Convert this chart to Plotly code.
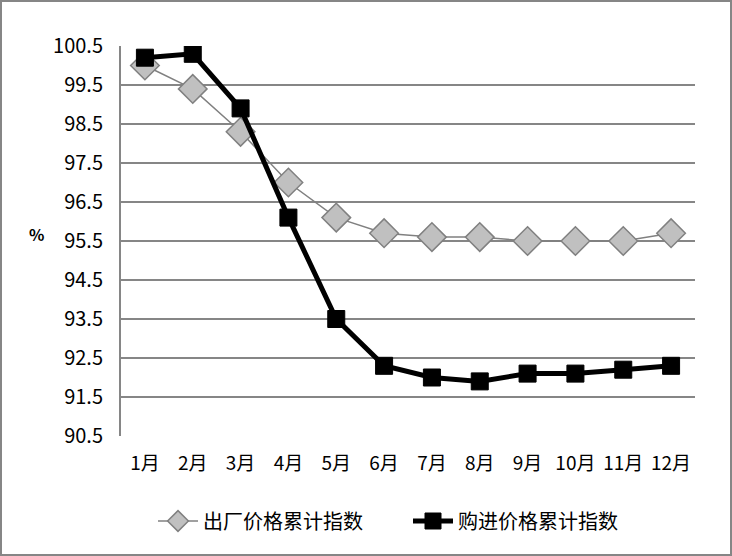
import plotly.graph_objects as go

months = ["1月", "2月", "3月", "4月", "5月", "6月", "7月", "8月", "9月", "10月", "11月", "12月"]
factory = [100.0, 99.4, 98.3, 97.0, 96.1, 95.7, 95.6, 95.6, 95.5, 95.5, 95.5, 95.7]
purchase = [100.2, 100.3, 98.9, 96.1, 93.5, 92.3, 92.0, 91.9, 92.1, 92.1, 92.2, 92.3]
yticks = [90.5, 91.5, 92.5, 93.5, 94.5, 95.5, 96.5, 97.5, 98.5, 99.5, 100.5]
name_factory = "出厂价格累计指数"
name_purchase = "购进价格累计指数"

FONT = "Liberation Sans Narrow, Noto Sans CJK SC, sans-serif"

fig = go.Figure()
fig.add_trace(go.Scatter(
    x=months, y=factory, name=name_factory, mode="lines+markers",
    line=dict(color="#808080", width=1.5),
    marker=dict(symbol="diamond", size=22, color="#C0C0C0",
                line=dict(color="#808080", width=1.5)),
))
fig.add_trace(go.Scatter(
    x=months, y=purchase, name=name_purchase, mode="lines+markers",
    line=dict(color="#000000", width=5),
    marker=dict(symbol="square", size=17, color="#000000",
                line=dict(color="#000000", width=1)),
))

L, R, T, B = 121, 37, 46, 120
W, H = 732, 556
pw, ph = W - L - R, H - T - B

fig.update_layout(
    width=W, height=H,
    margin=dict(l=L, r=R, t=T, b=B, autoexpand=False),
    paper_bgcolor="white", plot_bgcolor="white",
    font=dict(family=FONT, size=16, color="#000000"),
    showlegend=True,
    legend=dict(orientation="h", x=0.5, xanchor="center",
                y=(ph + T - 521) / ph, yanchor="middle",
                font=dict(size=20, family=FONT), itemwidth=40,
                entrywidth=200, entrywidthmode="pixels",
                tracegroupgap=0),
    xaxis=dict(type="category", showgrid=False, showline=False, ticks="",
               tickfont=dict(size=19), range=[-0.5, 11.5], zeroline=False,
               automargin=False, ticklabelstandoff=14),
    yaxis=dict(range=[90.5, 100.5], tickvals=yticks,
               ticktext=[f"{v:.1f}" for v in yticks],
               showgrid=True, gridcolor="#868686", gridwidth=2,
               showline=True, linecolor="#868686", linewidth=2,
               ticks="", tickfont=dict(size=20), zeroline=False,
               automargin=False, ticklabelstandoff=12),
    shapes=[dict(type="rect", xref="paper", yref="paper",
                 x0=(1 - L) / pw, x1=(W - 1 - L) / pw,
                 y0=(ph + T - (H - 1)) / ph,
                 y1=(ph + T - 1) / ph,
                 line=dict(color="#868686", width=2), layer="below")],
    annotations=[dict(text="<b>%</b>", xref="paper", yref="paper",
                      x=(27 - L) / pw, y=(ph + T - 234) / ph,
                      showarrow=False, font=dict(size=16))],
)

fig.write_html("out.html", config={"displayModeBar": False},
               post_script="document.body.style.margin='0';document.body.style.overflow='hidden';")
